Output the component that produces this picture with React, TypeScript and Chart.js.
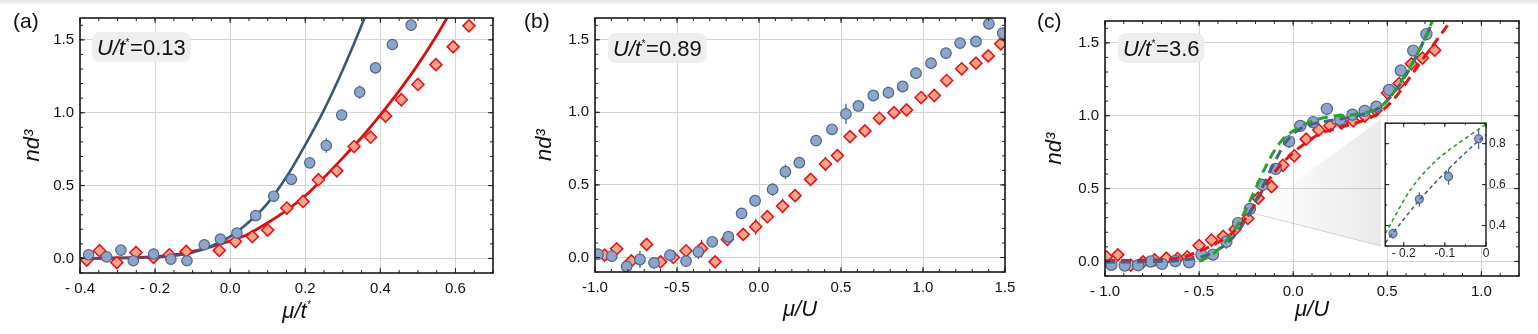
import React, { useEffect, useRef } from "react";
import { Chart, registerables } from "chart.js";
Chart.register(...registerables);

const FONT = "'Liberation Sans', Arial, Helvetica, sans-serif";
const GRID = "#d4d4d4";
const INK = "#111111";

// ---------------- Panel (a): U/t* = 0.13 ----------------
const A_BLUE_X = [-0.377, -0.329, -0.291, -0.258, -0.204, -0.158, -0.115, -0.069, -0.026, 0.018, 0.068, 0.116, 0.163, 0.212, 0.256, 0.297, 0.345, 0.387, 0.432, 0.482];
const A_BLUE_Y = [0.025, 0.011, 0.057, -0.016, 0.03, -0.005, -0.016, 0.094, 0.133, 0.174, 0.294, 0.427, 0.543, 0.656, 0.775, 0.984, 1.141, 1.308, 1.468, 1.601];
const A_BLUE_ERR = [0, 0, 0, 0, 0, 0, 0, 0, 0, 0, 0, 0, 0, 0, 0.05, 0, 0.045, 0, 0, 0];
const A_RED_X = [-0.382, -0.348, -0.302, -0.251, -0.204, -0.162, -0.117, -0.029, 0.014, 0.059, 0.1, 0.151, 0.194, 0.235, 0.284, 0.33, 0.374, 0.414, 0.456, 0.5, 0.548, 0.594, 0.636];
const A_RED_Y = [-0.011, 0.053, -0.028, 0.041, 0.007, 0.025, 0.048, 0.055, 0.116, 0.15, 0.195, 0.346, 0.391, 0.54, 0.601, 0.768, 0.832, 0.977, 1.089, 1.194, 1.33, 1.452, 1.596];
const A_BLUE_FIT_X = [-0.4, -0.3, -0.2, -0.15, -0.1, -0.05, 0.0, 0.05, 0.1, 0.15, 0.2, 0.25, 0.3, 0.35, 0.365];
const A_BLUE_FIT_Y = [0.0, 0.002, 0.008, 0.018, 0.04, 0.085, 0.15, 0.25, 0.38, 0.56, 0.78, 1.02, 1.295, 1.6, 1.7];
const A_RED_FIT_X = [-0.4, -0.3, -0.2, -0.15, -0.1, -0.05, 0.0, 0.05, 0.1, 0.15, 0.2, 0.25, 0.3, 0.35, 0.4, 0.45, 0.5, 0.55, 0.6];
const A_RED_FIT_Y = [0.0, 0.003, 0.012, 0.025, 0.048, 0.08, 0.12, 0.17, 0.245, 0.33, 0.43, 0.555, 0.69, 0.83, 0.985, 1.15, 1.33, 1.53, 1.75];
const A_X_TICKS = [-0.4, -0.2, 0.0, 0.2, 0.4, 0.6];
const A_X_LABELS = ["- 0.4", "- 0.2", "0.0", "0.2", "0.4", "0.6"];

// ---------------- Panel (b): U/t* = 0.89 ----------------
const B_BLUE_X = [-0.982, -0.898, -0.807, -0.726, -0.64, -0.543, -0.445, -0.37, -0.285, -0.187, -0.106, -0.024, 0.083, 0.161, 0.246, 0.348, 0.445, 0.53, 0.606, 0.697, 0.789, 0.876, 0.957, 1.049, 1.14, 1.226, 1.323, 1.402, 1.486];
const B_BLUE_Y = [0.023, 0.009, -0.062, -0.014, -0.037, 0.016, -0.025, 0.039, 0.108, 0.143, 0.304, 0.391, 0.469, 0.591, 0.653, 0.805, 0.883, 0.989, 1.044, 1.116, 1.136, 1.178, 1.27, 1.339, 1.408, 1.477, 1.488, 1.61, 1.546];
const B_BLUE_ERR = [0, 0, 0, 0.06, 0, 0, 0, 0.05, 0, 0, 0, 0, 0.045, 0.05, 0, 0, 0, 0.07, 0, 0, 0.04, 0, 0, 0, 0, 0, 0, 0.04, 0];
const B_RED_X = [-0.941, -0.868, -0.778, -0.685, -0.6, -0.522, -0.445, -0.35, -0.268, -0.193, -0.096, -0.02, 0.051, 0.144, 0.22, 0.315, 0.405, 0.478, 0.555, 0.646, 0.734, 0.823, 0.9, 0.988, 1.069, 1.144, 1.236, 1.323, 1.398, 1.474];
const B_RED_Y = [0.016, 0.06, -0.023, 0.09, -0.03, 0.0, 0.046, 0.062, -0.03, 0.124, 0.159, 0.212, 0.281, 0.354, 0.426, 0.538, 0.644, 0.702, 0.833, 0.872, 0.959, 0.998, 1.017, 1.102, 1.116, 1.219, 1.3, 1.339, 1.389, 1.472];
const B_RED_ERR = [0, 0, 0, 0, 0, 0, 0, 0.06, 0, 0, 0, 0.055, 0, 0.05, 0, 0, 0.05, 0, 0, 0, 0, 0, 0, 0, 0.04, 0, 0, 0, 0, 0.04];
const B_X_TICKS = [-1.0, -0.5, 0.0, 0.5, 1.0, 1.5];
const B_X_LABELS = ["-1.0", "-0.5", "0.0", "0.5", "1.0", "1.5"];

// ---------------- Panel (c): U/t* = 3.6 ----------------
const C_BLUE_X = [-0.966, -0.895, -0.824, -0.757, -0.697, -0.627, -0.553, -0.488, -0.426, -0.355, -0.293, -0.23, -0.164, -0.093, -0.022, 0.038, 0.106, 0.179, 0.25, 0.315, 0.38, 0.442, 0.51, 0.572, 0.638, 0.708];
const C_BLUE_Y = [-0.023, -0.028, -0.026, -0.001, -0.017, 0.003, -0.006, 0.047, 0.047, 0.135, 0.263, 0.36, 0.525, 0.635, 0.824, 0.93, 0.955, 1.047, 0.972, 1.007, 1.033, 1.062, 1.177, 1.31, 1.447, 1.56];
const C_BLUE_ERR = [0, 0, 0, 0.03, 0, 0, 0, 0, 0, 0.05, 0, 0, 0, 0.04, 0.045, 0, 0, 0, 0, 0, 0, 0, 0, 0, 0.035, 0.04];
const C_RED_X = [-0.993, -0.932, -0.863, -0.798, -0.736, -0.674, -0.615, -0.563, -0.5, -0.434, -0.372, -0.309, -0.241, -0.186, -0.115, -0.055, 0.006, 0.069, 0.136, 0.195, 0.257, 0.319, 0.381, 0.44, 0.501, 0.563, 0.628, 0.687, 0.752];
const C_RED_Y = [0.032, 0.045, -0.026, -0.003, 0.01, 0.023, 0.02, 0.032, 0.109, 0.147, 0.172, 0.22, 0.295, 0.434, 0.513, 0.66, 0.725, 0.839, 0.902, 0.931, 0.95, 0.965, 0.998, 1.035, 1.156, 1.221, 1.356, 1.396, 1.45];
const C_RED_ERR = [0, 0, 0, 0, 0, 0, 0, 0, 0, 0, 0, 0, 0, 0, 0.04, 0, 0.035, 0, 0, 0, 0, 0, 0, 0, 0, 0.04, 0, 0, 0.04];
const C_GREEN_X = [-0.5, -0.45, -0.4, -0.35, -0.3, -0.25, -0.2, -0.15, -0.1, -0.05, 0.0, 0.1, 0.2, 0.3, 0.4, 0.45, 0.5, 0.55, 0.6, 0.65, 0.7, 0.74];
const C_GREEN_Y = [0.0, 0.03, 0.08, 0.15, 0.24, 0.36, 0.5, 0.64, 0.76, 0.845, 0.895, 0.962, 0.995, 1.005, 1.025, 1.05, 1.105, 1.19, 1.29, 1.4, 1.53, 1.65];
const C_BLUE_FIT_X = [-1.0, -0.8, -0.6, -0.5, -0.4, -0.32, -0.25, -0.18, -0.1, -0.035, 0.035, 0.14, 0.25, 0.37, 0.46, 0.53, 0.6, 0.67, 0.74];
const C_BLUE_FIT_Y = [-0.005, -0.003, 0.008, 0.027, 0.08, 0.165, 0.29, 0.465, 0.68, 0.825, 0.908, 0.954, 0.977, 1.01, 1.057, 1.149, 1.28, 1.45, 1.64];
const C_RED_FIT_X = [-1.0, -0.8, -0.6, -0.5, -0.4, -0.32, -0.23, -0.14, -0.05, 0.035, 0.14, 0.25, 0.37, 0.46, 0.55, 0.64, 0.73, 0.82];
const C_RED_FIT_Y = [0.005, 0.008, 0.025, 0.07, 0.13, 0.2, 0.336, 0.54, 0.685, 0.783, 0.874, 0.92, 0.966, 1.023, 1.137, 1.3, 1.46, 1.62];
const C_X_TICKS = [-1.0, -0.5, 0.0, 0.5, 1.0];
const C_X_LABELS = ["- 1.0", "- 0.5", "0.0", "0.5", "1.0"];

// shared y axis of the three main panels
const Y_TICKS = [0.0, 0.5, 1.0, 1.5];
const Y_LABELS = ["0.0", "0.5", "1.0", "1.5"];

// ---------------- Inset of panel (c) ----------------
const INSET_X = [-0.226, -0.162, -0.091, -0.018];
const INSET_Y = [0.361, 0.528, 0.639, 0.824];
const INSET_ERR = [0.025, 0.035, 0.04, 0.05];
const INSET_GREEN_X = [-0.245, -0.182, -0.119, -0.057, 0.0];
const INSET_GREEN_Y = [0.36, 0.579, 0.721, 0.816, 0.895];
const INSET_BLUE_X = [-0.245, -0.162, -0.092, -0.026, 0.0];
const INSET_BLUE_Y = [0.315, 0.524, 0.674, 0.8, 0.845];
const INSET_X_TICKS = [-0.2, -0.1, 0.0];
const INSET_X_LABELS = ["- 0.2", "-0.1", "0"];
const INSET_Y_TICKS = [0.4, 0.6, 0.8];
const INSET_Y_LABELS = ["0.4", "0.6", "0.8"];
const ZOOM_ANCHOR = { x: -0.215, y: 0.332 };

// ---------------- styling ----------------
const CIRCLE_FILL = "#8ea4c8";
const CIRCLE_EDGE = "#4d668f";
const DIAMOND_FILL = "#f6a58b";
const DIAMOND_EDGE = "#e0161c";
const FIT_BLUE = "#3c5679";
const FIT_RED = "#d80f10";
const DASH_GREEN = "#27a327";
const DASH_BLUE = "#48608a";
const DASH_RED = "#e01616";

// layout (page pixels)
const A_LEFT = 0, A_W = 505;
const B_LEFT = 510, B_W = 505;
const C_LEFT = 1020, C_W = 518;
const INS_LEFT = 1380, INS_TOP = 118, INS_W = 135, INS_H = 148;

const zip = (xs: number[], ys: number[]) => xs.map((x, i) => ({ x, y: ys[i] }));

function circles(xs: number[], ys: number[], errs?: number[], r = 5.3) {
  return {
    data: zip(xs, ys), errs, showLine: false, pointStyle: "circle", pointRadius: r,
    pointBackgroundColor: CIRCLE_FILL, pointBorderColor: CIRCLE_EDGE, pointBorderWidth: 1.2,
    borderColor: CIRCLE_EDGE, backgroundColor: CIRCLE_FILL,
  };
}
function diamonds(xs: number[], ys: number[], errs?: number[]) {
  return {
    data: zip(xs, ys), errs, showLine: false, pointStyle: "rectRot", pointRadius: 6,
    pointBackgroundColor: DIAMOND_FILL, pointBorderColor: DIAMOND_EDGE, pointBorderWidth: 1.6,
    borderColor: DIAMOND_EDGE, backgroundColor: DIAMOND_FILL,
  };
}
function curve(xs: number[], ys: number[], color: string, width: number, dash: number[] = []) {
  return {
    data: zip(xs, ys), showLine: true, pointRadius: 0, pointHoverRadius: 0,
    borderColor: color, backgroundColor: color, borderWidth: width, borderDash: dash,
    borderCapStyle: "butt", cubicInterpolationMode: "monotone", fill: false,
  };
}

function labelFor(ticks: number[], labels: string[], v: number) {
  const i = ticks.findIndex((t) => Math.abs(t - v) < 1e-9);
  return i >= 0 ? labels[i] : "";
}

function steps(min: number, max: number, step: number) {
  const out: number[] = [];
  for (let k = Math.ceil(min / step - 1e-9); k * step <= max + 1e-9; k++) out.push(k * step);
  return out;
}

// frame with inward major/minor ticks on all four sides
function framePlugin(xMinor: number, yMinor: number, majorLen: number, minorLen: number, frameW: number) {
  return {
    id: "frameTicks",
    afterDatasetsDraw(chart: any) {
      const { ctx, chartArea: a, scales } = chart;
      const xs = scales.x, ys = scales.y;
      ctx.save();
      ctx.strokeStyle = "#222";
      ctx.lineWidth = 1;
      ctx.beginPath();
      const xt = (v: number, len: number) => {
        const p = xs.getPixelForValue(v);
        ctx.moveTo(p, a.bottom); ctx.lineTo(p, a.bottom - len);
        ctx.moveTo(p, a.top); ctx.lineTo(p, a.top + len);
      };
      const yt = (v: number, len: number) => {
        const p = ys.getPixelForValue(v);
        ctx.moveTo(a.left, p); ctx.lineTo(a.left + len, p);
        ctx.moveTo(a.right, p); ctx.lineTo(a.right - len, p);
      };
      if (xMinor > 0) steps(xs.min, xs.max, xMinor).forEach((v) => xt(v, minorLen));
      if (yMinor > 0) steps(ys.min, ys.max, yMinor).forEach((v) => yt(v, minorLen));
      xs.ticks.forEach((t: any) => xt(t.value, majorLen));
      ys.ticks.forEach((t: any) => yt(t.value, majorLen));
      ctx.stroke();
      ctx.lineWidth = frameW;
      ctx.strokeStyle = "#1a1a1a";
      ctx.strokeRect(a.left, a.top, a.right - a.left, a.bottom - a.top);
      ctx.restore();
    },
  };
}

// vertical error bars drawn beneath the markers
const errorBarPlugin = {
  id: "errorBars",
  beforeDatasetsDraw(chart: any) {
    const { ctx, scales } = chart;
    ctx.save();
    chart.data.datasets.forEach((ds: any) => {
      if (!ds.errs) return;
      ctx.strokeStyle = ds.borderColor;
      ctx.lineWidth = 1.3;
      ctx.beginPath();
      ds.data.forEach((pt: any, i: number) => {
        const e = ds.errs[i];
        if (!e) return;
        const px = scales.x.getPixelForValue(pt.x);
        ctx.moveTo(px, scales.y.getPixelForValue(pt.y - e));
        ctx.lineTo(px, scales.y.getPixelForValue(pt.y + e));
      });
      ctx.stroke();
    });
    ctx.restore();
  },
};

// "U/t* = value" rounded label box
function labelBoxPlugin(value: string, dx: number, dy: number) {
  return {
    id: "labelBox",
    beforeDatasetsDraw(chart: any) {
      const { ctx, chartArea: a } = chart;
      ctx.save();
      const size = 22;
      ctx.font = `italic ${size}px ${FONT}`;
      const w1 = ctx.measureText("U/t").width;
      ctx.font = `${size}px ${FONT}`;
      const w3 = ctx.measureText(value).width;
      const starW = 5;
      const padX = 5;
      const bx = a.left + dx, by = a.top + dy;
      const bw = w1 + starW + w3 + 2 * padX, bh = 30;
      ctx.fillStyle = "#eeeeee";
      ctx.beginPath();
      ctx.roundRect(bx, by, bw, bh, 8);
      ctx.fill();
      const tx = bx + padX, ty = by + 23;
      ctx.fillStyle = INK;
      ctx.textBaseline = "alphabetic";
      ctx.textAlign = "left";
      ctx.font = `italic ${size}px ${FONT}`;
      ctx.fillText("U/t", tx, ty);
      ctx.font = `10px ${FONT}`;
      ctx.fillText("*", tx + w1 + 0.5, ty - 9);
      ctx.font = `${size}px ${FONT}`;
      ctx.fillText(value, tx + w1 + starW, ty);
      ctx.restore();
    },
  };
}

// x title "μ/t*" with a raised small asterisk
function starTitlePlugin(dxCenter: number, baseline: number) {
  return {
    id: "starTitle",
    afterDraw(chart: any) {
      const { ctx, chartArea: a } = chart;
      ctx.save();
      ctx.fillStyle = INK;
      ctx.textBaseline = "alphabetic";
      ctx.textAlign = "left";
      ctx.font = `italic 22px ${FONT}`;
      const w = ctx.measureText("μ/t").width;
      const x0 = (a.left + a.right) / 2 + dxCenter - (w + 4) / 2;
      ctx.fillText("μ/t", x0, baseline);
      ctx.font = `10px ${FONT}`;
      ctx.fillText("*", x0 + w + 0.5, baseline - 10);
      ctx.restore();
    },
  };
}

// grey zoom wedge from the main curve to the inset
function wedgePlugin() {
  return {
    id: "zoomWedge",
    beforeDatasetsDraw(chart: any) {
      const { ctx, scales } = chart;
      const ax = scales.x.getPixelForValue(ZOOM_ANCHOR.x);
      const ay = scales.y.getPixelForValue(ZOOM_ANCHOR.y);
      const bx = INS_LEFT + 1 - C_LEFT;
      const top = INS_TOP + 1, bottom = INS_TOP + INS_H - 20;
      ctx.save();
      const g = ctx.createLinearGradient(ax, 0, bx, 0);
      g.addColorStop(0, "rgba(150,150,150,0.0)");
      g.addColorStop(1, "rgba(150,150,150,0.2)");
      ctx.fillStyle = g;
      ctx.beginPath();
      ctx.moveTo(ax, ay);
      ctx.lineTo(bx, top);
      ctx.lineTo(bx, bottom);
      ctx.closePath();
      ctx.fill();
      ctx.strokeStyle = "rgba(140,140,140,0.45)";
      ctx.lineWidth = 0.8;
      ctx.beginPath();
      ctx.moveTo(ax, ay);
      ctx.lineTo(bx, bottom);
      ctx.stroke();
      ctx.restore();
    },
  };
}

const whiteAreaPlugin = {
  id: "whiteArea",
  beforeDraw(chart: any) {
    const { ctx, chartArea: a } = chart;
    ctx.save();
    ctx.fillStyle = "#ffffff";
    ctx.fillRect(a.left, a.top, a.right - a.left, a.bottom - a.top);
    ctx.restore();
  },
};

function mainConfig(s: any): any {
  return {
    type: "scatter",
    data: { datasets: s.datasets },
    options: {
      animation: false, responsive: false, devicePixelRatio: 1, events: [],
      layout: { padding: { top: s.padTop, right: s.padRight, left: 0, bottom: 0 } },
      plugins: { legend: { display: false }, tooltip: { enabled: false } },
      scales: {
        x: {
          type: "linear", position: "bottom", min: s.xMin, max: s.xMax,
          afterBuildTicks: (sc: any) => { sc.ticks = s.xTicks.map((v: number) => ({ value: v })); },
          afterFit: (sc: any) => { sc.height = s.xAxisH; sc.paddingLeft = 0; sc.paddingRight = 0; },
          ticks: {
            autoSkip: false, maxRotation: 0, minRotation: 0, padding: 7, color: INK,
            font: { family: FONT, size: 15 },
            callback: (v: number) => labelFor(s.xTicks, s.xLabels, v),
          },
          grid: { color: GRID, lineWidth: 1, drawTicks: false },
          border: { display: false },
          title: s.xTitle
            ? { display: true, text: s.xTitle, color: INK, font: { family: FONT, size: 22, style: "italic" }, padding: { top: 0, bottom: 11 } }
            : { display: false },
        },
        y: {
          type: "linear", position: "left", min: -0.1, max: 1.65,
          afterBuildTicks: (sc: any) => { sc.ticks = Y_TICKS.map((v) => ({ value: v })); },
          afterFit: (sc: any) => { sc.width = s.yAxisW; sc.paddingTop = 0; sc.paddingBottom = 0; },
          ticks: {
            autoSkip: false, padding: 6, color: INK, font: { family: FONT, size: 15 },
            callback: (v: number) => labelFor(Y_TICKS, Y_LABELS, v),
          },
          grid: { color: GRID, lineWidth: 1, drawTicks: false },
          border: { display: false },
          title: { display: true, text: "nd³", color: INK, font: { family: FONT, size: 22, style: "italic" }, padding: { top: s.yTitlePad, bottom: 0 } },
        },
      },
    },
    plugins: [errorBarPlugin, framePlugin(s.xMinor, 0.1, 5, 3, 1.6), ...s.plugins],
  };
}

const configA = () => mainConfig({
  datasets: [
    circles(A_BLUE_X, A_BLUE_Y, A_BLUE_ERR, 5.2),
    diamonds(A_RED_X, A_RED_Y),
    curve(A_BLUE_FIT_X, A_BLUE_FIT_Y, FIT_BLUE, 2.6),
    curve(A_RED_FIT_X, A_RED_FIT_Y, FIT_RED, 2.8),
  ],
  xMin: -0.4, xMax: 0.7, xTicks: A_X_TICKS, xLabels: A_X_LABELS, xTitle: null,
  padTop: 18, padRight: 12, xAxisH: 61, yAxisW: 80, yTitlePad: 20,
  xMinor: 0.05,
  plugins: [labelBoxPlugin("=0.13", 12, 14), starTitlePlugin(10, 318)],
});

const configB = () => mainConfig({
  datasets: [
    circles(B_BLUE_X, B_BLUE_Y, B_BLUE_ERR, 5.3),
    diamonds(B_RED_X, B_RED_Y, B_RED_ERR),
  ],
  xMin: -1.0, xMax: 1.5, xTicks: B_X_TICKS, xLabels: B_X_LABELS, xTitle: "μ/U",
  padTop: 18, padRight: 10, xAxisH: 62, yAxisW: 85, yTitlePad: 22,
  xMinor: 0.1,
  plugins: [labelBoxPlugin("=0.89", 13, 15)],
});

const configC = () => mainConfig({
  datasets: [
    curve(C_GREEN_X, C_GREEN_Y, DASH_GREEN, 3, [10, 6]),
    curve(C_BLUE_FIT_X, C_BLUE_FIT_Y, DASH_BLUE, 3, [10, 6]),
    curve(C_RED_FIT_X, C_RED_FIT_Y, DASH_RED, 3, [10, 6]),
    circles(C_BLUE_X, C_BLUE_Y, C_BLUE_ERR, 5.6),
    diamonds(C_RED_X, C_RED_Y, C_RED_ERR),
  ],
  xMin: -1.0, xMax: 1.2, xTicks: C_X_TICKS, xLabels: C_X_LABELS, xTitle: "μ/U",
  padTop: 21, padRight: 19, xAxisH: 58, yAxisW: 85, yTitlePad: 22,
  xMinor: 0.1,
  plugins: [wedgePlugin(), labelBoxPlugin("=3.6", 13, 12)],
});

const configInset = (): any => ({
  type: "scatter",
  data: {
    datasets: [
      curve(INSET_GREEN_X, INSET_GREEN_Y, DASH_GREEN, 1.6, [4, 3]),
      curve(INSET_BLUE_X, INSET_BLUE_Y, DASH_BLUE, 1.6, [4, 3]),
      circles(INSET_X, INSET_Y, INSET_ERR, 4),
    ],
  },
  options: {
    animation: false, responsive: false, devicePixelRatio: 1, events: [],
    layout: { padding: { top: 1, left: 1, right: 0, bottom: 0 } },
    plugins: { legend: { display: false }, tooltip: { enabled: false } },
    scales: {
      x: {
        type: "linear", position: "bottom", min: -0.245, max: 0,
        afterBuildTicks: (sc: any) => { sc.ticks = INSET_X_TICKS.map((v) => ({ value: v })); },
        afterFit: (sc: any) => { sc.height = 20; sc.paddingLeft = 0; sc.paddingRight = 0; },
        ticks: {
          autoSkip: false, maxRotation: 0, padding: 0, color: "#222", font: { family: FONT, size: 12 },
          callback: (v: number) => labelFor(INSET_X_TICKS, INSET_X_LABELS, v),
        },
        grid: { display: false, drawTicks: false },
        border: { display: false },
      },
      y: {
        type: "linear", position: "right", min: 0.3, max: 0.9,
        afterBuildTicks: (sc: any) => { sc.ticks = INSET_Y_TICKS.map((v) => ({ value: v })); },
        afterFit: (sc: any) => { sc.width = 29; sc.paddingTop = 0; sc.paddingBottom = 0; },
        ticks: {
          autoSkip: false, padding: 3, color: "#222", font: { family: FONT, size: 12 },
          callback: (v: number) => labelFor(INSET_Y_TICKS, INSET_Y_LABELS, v),
        },
        grid: { display: false, drawTicks: false },
        border: { display: false },
      },
    },
  },
  plugins: [whiteAreaPlugin, errorBarPlugin, framePlugin(0.05, 0.1, 4, 2, 1.4)],
});

const panelLabel = (left: number): React.CSSProperties => ({
  position: "absolute", left, top: 9, fontFamily: FONT, fontSize: 21, lineHeight: "24px", color: INK,
});

export default function App() {
  const aRef = useRef<HTMLCanvasElement>(null);
  const bRef = useRef<HTMLCanvasElement>(null);
  const cRef = useRef<HTMLCanvasElement>(null);
  const iRef = useRef<HTMLCanvasElement>(null);

  useEffect(() => {
    const charts = [
      new Chart(aRef.current as HTMLCanvasElement, configA()),
      new Chart(bRef.current as HTMLCanvasElement, configB()),
      new Chart(cRef.current as HTMLCanvasElement, configC()),
      new Chart(iRef.current as HTMLCanvasElement, configInset()),
    ];
    return () => charts.forEach((c) => c.destroy());
  }, []);

  const abs = (left: number, top: number, w: number, h: number): React.CSSProperties => ({
    position: "absolute", left, top, width: w, height: h,
  });

  return (
    <div style={{ position: "absolute", left: 0, top: 0, width: 1538, height: 334, background: "#ffffff", overflow: "hidden" }}>
      <div style={{ position: "absolute", left: 0, top: 0, width: 1538, height: 4, background: "linear-gradient(#e6e6e6, #f6f6f6)" }} />
      <canvas ref={aRef} width={A_W} height={334} style={abs(A_LEFT, 0, A_W, 334)} />
      <canvas ref={bRef} width={B_W} height={334} style={abs(B_LEFT, 0, B_W, 334)} />
      <canvas ref={cRef} width={C_W} height={334} style={abs(C_LEFT, 0, C_W, 334)} />
      <canvas ref={iRef} width={INS_W} height={INS_H} style={abs(INS_LEFT, INS_TOP, INS_W, INS_H)} />
      <div style={panelLabel(13)}>(a)</div>
      <div style={panelLabel(524)}>(b)</div>
      <div style={panelLabel(1037)}>(c)</div>
    </div>
  );
}
